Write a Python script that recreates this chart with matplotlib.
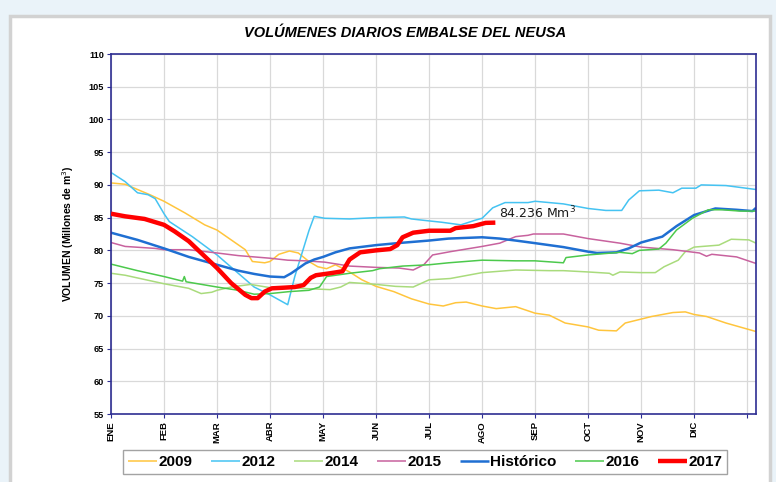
import matplotlib
matplotlib.use("Agg")
import matplotlib.pyplot as plt
from matplotlib.patches import Rectangle

# ---------------- data ----------------
months = ["ENE", "FEB", "MAR", "ABR", "MAY", "JUN", "JUL", "AGO", "SEP", "OCT", "NOV", "DIC"]
month_start_days = [0, 30, 60, 90, 120, 150, 180, 210, 240, 270, 300, 330, 360]

d2009 = [0, 8, 15, 22, 30, 42, 53, 60, 68, 76, 80, 87, 90, 95, 101, 106, 112, 117, 122, 127,
         135, 142, 150, 160, 170, 180, 188, 195, 201, 210, 218, 229, 240, 248, 257, 270, 276,
         286, 291, 300, 306, 318, 325, 330, 337, 348, 365]
v2009 = [90.3, 90.1, 89.3, 88.5, 87.5, 85.7, 83.9, 83.1, 81.6, 80.1, 78.3, 78.1, 78.3, 79.4,
         79.9, 79.6, 78.3, 77.5, 77.2, 77.8, 76.7, 75.5, 74.5, 73.7, 72.6, 71.8, 71.5, 72.0,
         72.1, 71.5, 71.1, 71.4, 70.4, 70.1, 68.9, 68.3, 67.8, 67.7, 68.9, 69.5, 69.9, 70.5,
         70.6, 70.2, 69.9, 68.9, 67.6]

d2012 = [0, 8, 15, 21, 25, 30, 33, 46, 60, 72, 81, 90, 100, 104, 108, 112, 115, 121, 135,
         150, 166, 170, 180, 187, 198, 206, 210, 216, 223, 236, 240, 256, 270, 280, 289, 293,
         299, 310, 318, 323, 331, 334, 348, 365]
v2012 = [91.9, 90.5, 88.8, 88.5, 87.9, 85.6, 84.4, 82.1, 79.3, 76.5, 74.4, 73.2, 71.7, 76.0,
         79.5, 83.0, 85.2, 84.9, 84.8, 85.0, 85.1, 84.8, 84.5, 84.3, 83.9, 84.6, 84.9, 86.5,
         87.3, 87.3, 87.5, 87.1, 86.4, 86.1, 86.1, 87.7, 89.1, 89.2, 88.8, 89.5, 89.5, 90.0,
         89.9, 89.3]

d2014 = [0, 8, 30, 44, 51, 57, 60, 68, 79, 90, 107, 124, 130, 135, 150, 161, 171, 180, 192,
         210, 229, 248, 256, 270, 282, 284, 288, 300, 308, 313, 321, 325, 330, 344, 351, 361, 365]
v2014 = [76.5, 76.2, 74.9, 74.2, 73.4, 73.6, 73.9, 74.4, 74.8, 74.3, 74.2, 74.0, 74.4, 75.1,
         74.8, 74.5, 74.4, 75.5, 75.7, 76.6, 77.0, 76.9, 76.9, 76.7, 76.5, 76.2, 76.7, 76.6,
         76.6, 77.5, 78.5, 79.8, 80.5, 80.8, 81.7, 81.6, 81.1]

d2015 = [0, 8, 25, 30, 44, 60, 72, 81, 90, 100, 110, 121, 135, 150, 163, 171, 177, 182, 192,
         210, 220, 229, 236, 239, 256, 270, 288, 300, 318, 333, 337, 340, 354, 365]
v2015 = [81.2, 80.6, 80.3, 80.1, 80.1, 79.6, 79.2, 79.0, 78.8, 78.5, 78.4, 78.2, 77.6, 77.4,
         77.3, 77.0, 77.8, 79.3, 79.8, 80.6, 81.1, 82.1, 82.3, 82.5, 82.5, 81.8, 81.1, 80.5,
         80.1, 79.6, 79.1, 79.4, 79.0, 78.0]

dhist = [0, 15, 30, 44, 60, 72, 81, 90, 98, 102, 110, 115, 120, 127, 135, 150, 162, 180, 191,
         210, 220, 229, 240, 256, 270, 275, 286, 293, 300, 312, 320, 330, 342, 354, 363, 365]
vhist = [82.7, 81.6, 80.3, 79.0, 77.8, 76.9, 76.4, 76.0, 75.9, 76.5, 78.0, 78.6, 79.0, 79.7,
         80.3, 80.8, 81.1, 81.5, 81.8, 82.0, 81.8, 81.5, 81.1, 80.5, 79.8, 79.6, 79.7, 80.3,
         81.2, 82.1, 83.7, 85.4, 86.4, 86.2, 86.0, 86.5]

d2016 = [0, 15, 30, 40.5, 41.5, 42.5, 60, 72, 81, 90, 101, 112, 118, 122, 135, 148, 152, 165,
         180, 191, 210, 229, 240, 256, 257.5, 270, 288, 295, 299, 310, 314, 320, 329, 338, 346,
         356, 365]
v2016 = [77.9, 76.9, 76.0, 75.3, 76.0, 75.2, 74.4, 73.9, 73.3, 73.4, 73.7, 73.9, 74.4, 76.0,
         76.5, 76.9, 77.2, 77.6, 77.8, 78.1, 78.5, 78.4, 78.4, 78.1, 78.9, 79.3, 79.7, 79.5,
         80.0, 80.2, 81.1, 83.1, 84.9, 86.2, 86.2, 86.0, 86.0]

d2017 = [0, 8, 19, 30, 36, 44, 51, 60, 68, 76, 79.5, 83, 87, 91, 98, 104, 109, 113, 116, 124,
         131, 135, 141, 150, 158, 162, 165, 171, 180, 192, 195, 205, 212, 217.5]
v2017 = [85.6, 85.2, 84.8, 83.9, 82.9, 81.4, 79.6, 77.3, 75.0, 73.2, 72.7, 72.7, 73.7, 74.2,
         74.3, 74.4, 74.7, 75.8, 76.2, 76.5, 76.8, 78.6, 79.7, 80.0, 80.2, 80.8, 82.0, 82.7,
         83.0, 83.0, 83.4, 83.7, 84.2, 84.236]

last_label = "84.236 Mm$^3$"

series = [
    ("2009", d2009, v2009, "#FFC53D", 1.1),
    ("2012", d2012, v2012, "#45C3F2", 1.1),
    ("2014", d2014, v2014, "#A9DB7C", 1.1),
    ("2015", d2015, v2015, "#C8629E", 1.1),
    ("Histórico", dhist, vhist, "#1F6FD2", 1.8),
    ("2016", d2016, v2016, "#4CC94C", 1.1),
    ("2017", d2017, v2017, "#FF0000", 3.2),
]

# ---------------- figure ----------------
W, H = 776, 482
fig = plt.figure(figsize=(W / 100, H / 100), dpi=100)
fig.patch.set_facecolor("#EAF3F9")
# white card with grey border (background axes)
bg = fig.add_axes([0, 0, 1, 1], zorder=-10)
bg.set_axis_off()
bg.set_xlim(0, W)
bg.set_ylim(H, 0)
bg.add_patch(Rectangle((10, 16), 760, H, facecolor="white", edgecolor="#D2D2D2", linewidth=2.5))

ax = fig.add_axes([111 / W, 1 - 414 / H, (756 - 111) / W, (414 - 54) / H], zorder=2)
ax.set_facecolor("white")

for name, d, v, c, lw in series:
    ax.plot(d, v, color=c, lw=lw, label=name, solid_capstyle="butt",
            zorder=3 if name == "2017" else 2)

ax.text(d2017[-1] + 2, 85.75, last_label, fontsize=9, color="#1A1A1A",
        family="DejaVu Sans", va="center", ha="left")

ax.set_xlim(0, 365)
ax.set_ylim(55, 110)
ax.set_yticks(range(55, 111, 5))
ax.set_xticks(month_start_days)
ax.set_xticklabels(months + [""], rotation=90, fontsize=6.8, fontweight="bold",
                   family="Liberation Sans")
for lab in ax.get_yticklabels():
    lab.set_fontsize(6.6)
    lab.set_fontweight("bold")
    lab.set_family("Liberation Sans")

ax.grid(True, color="#D9D9D9", lw=0.9)
ax.set_axisbelow(True)
navy = "#2E2E92"
for s in ax.spines.values():
    s.set_color(navy)
    s.set_linewidth(1.2)
ax.tick_params(axis="both", direction="out", length=3, width=0.8, color=navy, pad=2)

ax.set_ylabel("VOLUMEN (Millones de m$^3$)", fontsize=7.5, fontweight="bold",
              family="Liberation Sans", labelpad=9)

fig.text(405 / W, 1 - 33 / H, "VOLÚMENES DIARIOS EMBALSE DEL NEUSA", ha="center", va="center",
         fontsize=10.5, fontweight="bold", style="italic", family="Liberation Sans")

leg = fig.legend(loc="center", bbox_to_anchor=(425 / W, 1 - 462 / H), ncol=7, frameon=True,
                 fancybox=False, edgecolor="#8C8C8C", handlelength=1.9, handletextpad=0.1,
                 columnspacing=1.2, borderpad=0.3,
                 prop={"family": "Liberation Sans", "weight": "bold", "size": 11})
leg.get_frame().set_linewidth(1.0)
leg.set_zorder(5)

fig.savefig("out.png", dpi=100, facecolor=fig.get_facecolor())
